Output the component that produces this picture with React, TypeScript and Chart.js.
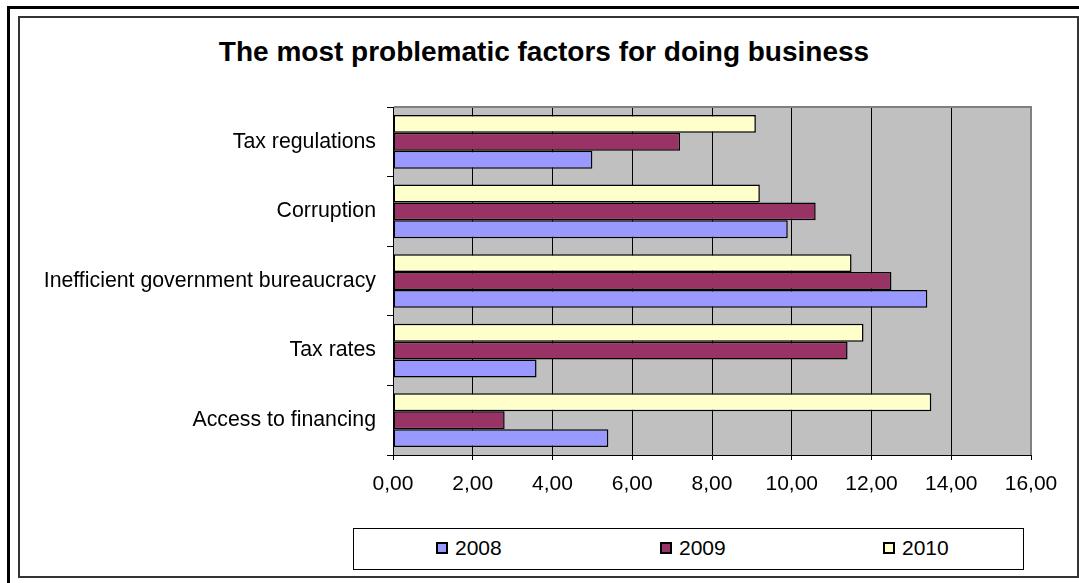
import React, { useEffect, useRef } from "react";
import { Chart, registerables } from "chart.js";

Chart.register(...registerables);

const TITLE = "The most problematic factors for doing business";
const CATEGORIES = [
  "Tax regulations",
  "Corruption",
  "Inefficient government bureaucracy",
  "Tax rates",
  "Access to financing",
];
const VALUES_2008 = [5.0, 9.9, 13.4, 3.6, 5.4];
const VALUES_2009 = [7.2, 10.6, 12.5, 11.4, 2.8];
const VALUES_2010 = [9.1, 9.2, 11.5, 11.8, 13.5];
const SERIES_LABELS = ["2008", "2009", "2010"];
const SERIES_COLORS = ["#9999FF", "#993366", "#FFFFCC"];
const X_MIN = 0;
const X_MAX = 16;
const X_STEP = 2;

const FONT = "'Liberation Sans', Arial, sans-serif";

const plotFrame = {
  id: "plotFrame",
  beforeDraw(chart: any) {
    const { ctx, chartArea } = chart;
    const { left, top, right, bottom } = chartArea;
    ctx.save();
    ctx.fillStyle = "#C0C0C0";
    ctx.fillRect(left, top, right - left, bottom - top);
    ctx.restore();
  },
  afterDraw(chart: any) {
    const { ctx, chartArea } = chart;
    const { left, top, right, bottom } = chartArea;
    ctx.save();
    ctx.strokeStyle = "#808080";
    ctx.lineWidth = 2;
    ctx.beginPath();
    ctx.moveTo(left + 1, top);
    ctx.lineTo(right, top);
    ctx.lineTo(right, bottom);
    ctx.stroke();
    ctx.restore();
  },
};

export default function App() {
  const canvasRef = useRef<HTMLCanvasElement | null>(null);

  useEffect(() => {
    const canvas = canvasRef.current;
    if (!canvas) return;
    const ds = [
      { label: SERIES_LABELS[2], data: VALUES_2010, backgroundColor: SERIES_COLORS[2] },
      { label: SERIES_LABELS[1], data: VALUES_2009, backgroundColor: SERIES_COLORS[1] },
      { label: SERIES_LABELS[0], data: VALUES_2008, backgroundColor: SERIES_COLORS[0] },
    ].map((d) => ({
      ...d,
      borderColor: "#000000",
      borderWidth: 1.5,
      borderSkipped: false as any,
      categoryPercentage: 0.772,
      barPercentage: 1,
    }));

    const chart = new Chart(canvas, {
      type: "bar",
      data: { labels: CATEGORIES, datasets: ds as any },
      options: {
        indexAxis: "y",
        responsive: false,
        animation: false,
        devicePixelRatio: 1,
        layout: { padding: { left: 20, right: 48, top: 107, bottom: 0 } },
        plugins: {
          legend: { display: false },
          tooltip: { enabled: false },
          title: { display: false },
        },
        scales: {
          x: {
            type: "linear",
            min: X_MIN,
            max: X_MAX,
            ticks: {
              stepSize: X_STEP,
              color: "#000",
              font: { family: FONT, size: 21 },
              padding: 12,
              maxRotation: 0,
              autoSkip: false,
              callback: (v: any) => Number(v).toFixed(2).replace(".", ","),
            },
            grid: { color: "#000", lineWidth: 1, tickLength: 5, drawOnChartArea: true },
            border: { color: "#000", width: 1 },
            afterFit: (s: any) => {
              s.height = 128;
            },
          },
          y: {
            type: "category",
            ticks: {
              color: "#000",
              font: { family: FONT, size: 21.3 },
              padding: 11,
              autoSkip: false,
            },
            grid: { offset: true, drawOnChartArea: false, tickLength: 6, color: "#000", lineWidth: 1 },
            border: { color: "#000", width: 1 },
            afterFit: (s: any) => {
              s.width = 373;
            },
          },
        },
      } as any,
      plugins: [plotFrame],
    });
    return () => chart.destroy();
  }, []);

  const legendX = [82, 306, 529];
  return (
    <div
      style={{
        position: "absolute",
        left: 0,
        top: 0,
        width: 1079,
        height: 583,
        overflow: "hidden",
        background: "#fff",
      }}
    >
      <div
        style={{
          position: "absolute",
          left: 7,
          top: 6,
          width: 1200,
          height: 700,
          border: "3px solid #000",
          boxSizing: "border-box",
        }}
      />
      <div
        style={{
          position: "absolute",
          left: 18,
          top: 16,
          width: 1061,
          height: 562,
          border: "2px solid #333",
          boxSizing: "border-box",
          background: "#fff",
        }}
      />
      <div
        style={{
          position: "absolute",
          left: 0,
          top: 35,
          width: 1088,
          height: 34,
          lineHeight: "34px",
          textAlign: "center",
          fontFamily: FONT,
          fontWeight: "bold",
          fontSize: 28,
          color: "#000",
          whiteSpace: "nowrap",
        }}
      >
        {TITLE}
      </div>
      <canvas
        ref={canvasRef}
        width={1079}
        height={583}
        style={{ position: "absolute", left: 0, top: 0, width: 1079, height: 583 }}
      />
      <div
        style={{
          position: "absolute",
          left: 353,
          top: 528,
          width: 671,
          height: 42,
          border: "1px solid #000",
          boxSizing: "border-box",
          background: "#fff",
        }}
      >
        {SERIES_LABELS.map((lab, i) => (
          <React.Fragment key={lab}>
            <div
              style={{
                position: "absolute",
                left: legendX[i],
                top: 13,
                width: 12,
                height: 12,
                border: "2px solid #000",
                boxSizing: "border-box",
                background: SERIES_COLORS[i],
              }}
            />
            <div
              style={{
                position: "absolute",
                left: legendX[i] + 19,
                top: 8,
                height: 21,
                lineHeight: "21px",
                fontFamily: FONT,
                fontSize: 21,
                color: "#000",
                whiteSpace: "nowrap",
              }}
            >
              {lab}
            </div>
          </React.Fragment>
        ))}
      </div>
    </div>
  );
}
